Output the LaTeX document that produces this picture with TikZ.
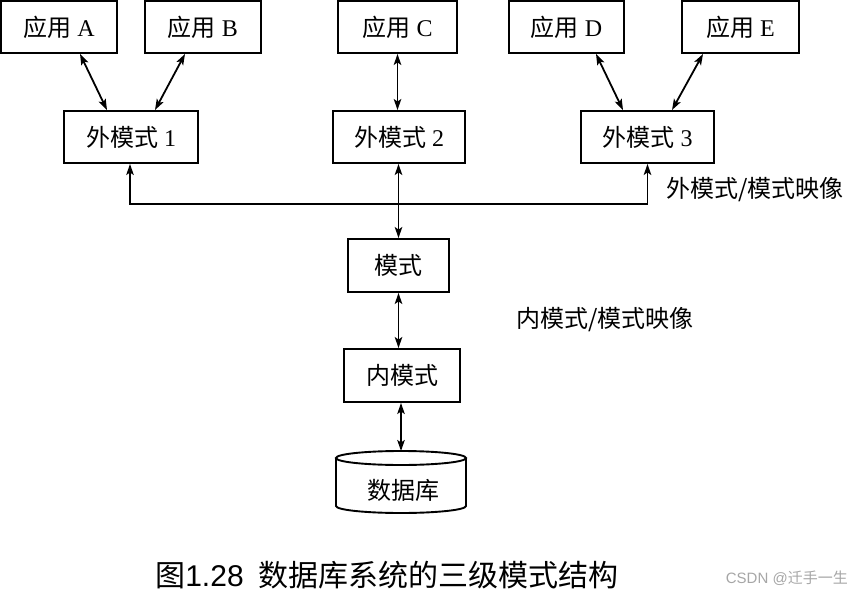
\documentclass[tikz,border=0pt]{standalone}
\usepackage{fontspec}
\setmainfont{Liberation Serif}
\newfontfamily\cjk{Noto Sans CJK SC}
\newfontfamily\capsans{Liberation Sans}
\usetikzlibrary{arrows.meta}
\begin{document}
\begin{tikzpicture}[x=1pt,y=1pt,
  box/.style={draw,line width=1.9pt,inner sep=0pt,minimum height=52pt,font=\fontsize{24}{26}\selectfont},
  biarrow/.style={{Stealth[length=11pt,width=7.5pt,inset=2.5pt]}-{Stealth[length=11pt,width=7.5pt,inset=2.5pt]},line width=1.8pt},
  lbl/.style={anchor=west,inner sep=0pt,font=\fontsize{24}{27}\selectfont\cjk}]
\useasboundingbox (0,0) rectangle (851,-596);
% applications
\node[box,minimum width=116pt] (A) at (59,-27) {{\cjk 应用} A};
\node[box,minimum width=116pt] (B) at (203,-27) {{\cjk 应用} B};
\node[box,minimum width=119pt] (C) at (397.5,-27) {{\cjk 应用} C};
\node[box,minimum width=115pt] (D) at (566.5,-27) {{\cjk 应用} D};
\node[box,minimum width=117pt] (E) at (740.5,-27) {{\cjk 应用} E};
% external schemas
\node[box,minimum width=134pt] (s1) at (131,-137) {{\cjk 外模式} 1};
\node[box,minimum width=132pt] (s2) at (399,-137) {{\cjk 外模式} 2};
\node[box,minimum width=133pt] (s3) at (647.5,-137) {{\cjk 外模式} 3};
% schema, internal schema
\node[box,minimum width=101pt,minimum height=53pt] (m) at (398.5,-265.5) {\cjk 模式};
\node[box,minimum width=116pt,minimum height=53pt] (n) at (402,-375.5) {\cjk 内模式};
% database cylinder
\coordinate (dbtop) at (401,-451);
\draw[line width=1.9pt] (401,-458) ellipse [x radius=65pt,y radius=7pt];
\draw[line width=1.9pt] (336,-458) -- (336,-506) arc[start angle=180,end angle=360,x radius=65pt,y radius=7pt] -- (466,-458);
\node[font=\fontsize{24}{26}\selectfont\cjk] (db) at (403,-490) {数据库};
% connectors
\draw[biarrow] ([xshift=21pt]A.south) -- ([xshift=-24pt]s1.north);
\draw[biarrow] ([xshift=-18pt]B.south) -- ([xshift=24pt]s1.north);
\draw[biarrow] (C.south) -- (C.south |- s2.north);
\draw[biarrow] ([xshift=29.5pt]D.south) -- ([xshift=-24.5pt]s3.north);
\draw[biarrow] ([xshift=-37.5pt]E.south) -- ([xshift=24.5pt]s3.north);
\coordinate (bus) at (0,-204);
\draw[biarrow] ([xshift=-1pt]s1.south) -- ([xshift=-1pt]s1.south |- bus) -- (s3.south |- bus) -- (s3.south);
\draw[biarrow] (s2.south -| m.north) -- (m.north);
\draw[biarrow] (m.south) -- (m.south |- n.north);
\draw[biarrow] (n.south -| dbtop) -- (dbtop);
% labels
\node[lbl] (l1) at (666,-190) {外模式/模式映像};
\node[lbl] (l2) at (516,-320) {内模式/模式映像};
\node[inner sep=0pt,font=\fontsize{30}{33}\selectfont] (cap) at (387,-575) {{\cjk 图}{\capsans 1.28}\hspace{0.5em}{\cjk 数据库系统的三级模式结构}};
\node[anchor=east,inner sep=0pt,text=black!35,font=\fontsize{15}{17}\selectfont] (wm) at (848,-578) {{\capsans CSDN @}{\cjk 迁手一生}};
\end{tikzpicture}
\end{document}
